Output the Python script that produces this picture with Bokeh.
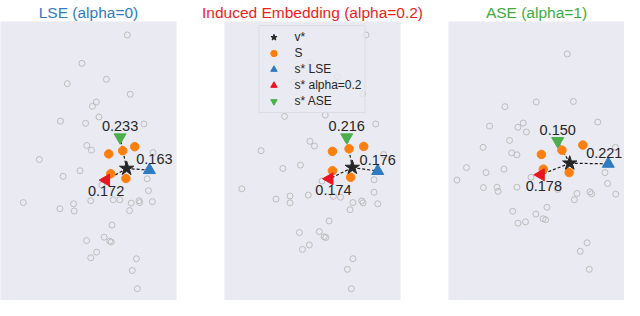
import math
from bokeh.plotting import figure
from bokeh.layouts import row
from bokeh.models import Range1d, Legend, LegendItem
from bokeh.core.properties import value
from bokeh.embed import file_html
from bokeh.resources import INLINE

# ---------------- data ----------------
titles = ["LSE (alpha=0)", "Induced Embedding (alpha=0.2)", "ASE (alpha=1)"]
title_colors = ["#2f7cbf", "#ee1c1c", "#3cad3c"]

# Panel 1: LSE (alpha=0)
lse_other_x = [129.7, 83.3, 68.3, 108.3, 132.7, 98, 94, 100.7, 61.3, 87, 146.7, 88.3, 93, 156,
               39.7, 81.3, 64, 150, 103.7, 151.3, 23.3, 92.3, 115.3, 122, 141.7, 142.3, 133.7,
               155.3, 74.7, 60.7, 75.3, 132, 114, 106, 88, 111.7, 113.3, 98.3, 92.3, 139, 134.7, 140]
lse_other_y = [283.6, 253.3, 231.6, 236.3, 220.3, 212, 207.3, 196, 191.6, 189.3, 188.6, 165.6, 160.6, 158,
               150.6, 138.6, 132.6, 130, 123.3, 117.3, 104.6, 106.6, 107.6, 107.6, 106.6, 104.6, 104,
               105.6, 103.3, 98, 95.6, 96, 80.6, 67.6, 64, 63.3, 62.6, 51.6, 45.6, 44.6, 32, 12.6]
lse_s_x = [110.7, 125, 137.3, 112.7, 128.3]
lse_s_y = [156.6, 160, 164.3, 135.3, 130.3]
lse_v = (129, 141)
lse_lse = (152.3, 139.3)
lse_alpha = (108, 128.6)
lse_ase = (122.3, 174.3)
lse_dist = ["0.163", "0.172", "0.233"]   # LSE, alpha, ASE

# Panel 2: Induced Embedding (alpha=0.2)
ind_other_x = [144.7, 115.4, 71, 141.4, 87.7, 96.7, 61.4, 103, 154.7, 87.4, 92, 37.4, 162.7, 59.7,
               77.7, 99.7, 153, 17.7, 52.7, 67, 67, 85.7, 111.4, 118.7, 153, 131.4, 140.4, 141.7,
               156.7, 128.4, 107, 76.7, 97, 102, 103.7, 86.7, 79.7, 131.4, 125.7, 129.7]
ind_other_y = [283.6, 239, 233.3, 220.6, 254, 209, 196.6, 198, 188.6, 170, 165, 160, 155.8, 141,
               144.6, 127.6, 129, 119.3, 108.3, 111.6, 104.3, 112.6, 111.3, 110.3, 115.6, 104.6, 106.3, 104.3,
               103.3, 97, 85, 72.6, 73.6, 68, 67.3, 59.3, 54.6, 44.6, 33.3, 12.6]
ind_s_x = [110.4, 127.4, 142.4, 110.4, 129]
ind_s_y = [159.3, 162, 164.6, 138.6, 131.6]
ind_v = (130.7, 142)
ind_lse = (156.7, 138.3)
ind_alpha = (107.4, 130)
ind_ase = (125, 174.3)
ind_dist = ["0.176", "0.174", "0.216"]

# Panel 3: ASE (alpha=1)
ase_other_x = [121.4, 57.7, 89.7, 127.7, 42, 71, 76.4, 79.7, 152.7, 62.4, 35.4, 64.7, 70, 170.7,
               18.4, 38.4, 56.7, 8.7, 84.4, 160, 162.7, 35.7, 49.7, 50.7, 70, 111.7, 131.4, 144.7,
               146.4, 171, 128.7, 100.7, 65.7, 89.4, 96.7, 99.4, 71, 78.7, 141.7, 134.7, 144]
ase_other_y = [263.3, 207, 212, 212.6, 186.3, 185, 189.6, 180, 190.6, 171, 163.6, 157.6, 155.6, 163.6,
               142, 136.6, 140.3, 128.6, 131.6, 136.6, 125, 120.6, 121, 116.6, 121, 118.6, 114.3, 116,
               114, 113.6, 107.6, 99.6, 95.3, 92.3, 87.3, 86.3, 82.6, 84, 61.6, 52.6, 33.3]
ase_s_x = [137.4, 116, 95, 97, 123.4]
ase_s_y = [166, 160.6, 156, 140.3, 136.6]
ase_v = (124, 146.6)
ase_lse = (163.4, 146)
ase_alpha = (94.4, 134.3)
ase_ase = (111.7, 170.3)
ase_dist = ["0.221", "0.178", "0.150"]

legend_labels = ["v*", "S", "s* LSE", "s* alpha=0.2", "s* ASE"]

# ---------------- styling ----------------
BG = "#EAEAF2"
FONT = "Liberation Sans"
C_ORANGE = "#ff7f0e"
C_BLUE = "#2f7bbf"
C_RED = "#e8161f"
C_GREEN = "#4cae4c"
C_STAR = "#262626"

panels = [
    (lse_other_x, lse_other_y, lse_s_x, lse_s_y, lse_v, lse_lse, lse_alpha, lse_ase, lse_dist),
    (ind_other_x, ind_other_y, ind_s_x, ind_s_y, ind_v, ind_lse, ind_alpha, ind_ase, ind_dist),
    (ase_other_x, ase_other_y, ase_s_x, ase_s_y, ase_v, ase_lse, ase_alpha, ase_ase, ase_dist),
]
borders = [(0, 24), (24, 24), (24, 0)]
label_dx = [[5, 0, 0], [0, 4, 0], [-4, 3, 0]]   # screen-pixel nudges of the distance labels
label_dy = [-11, 11, -11]

figs = []
for i, (ox, oy, sx, sy, v, lse, alp, ase, dist) in enumerate(panels):
    bl, br = borders[i]
    p = figure(width=176 + bl + br, height=300, output_backend="svg", toolbar_location=None,
               x_range=Range1d(0, 180), y_range=Range1d(0, 298),
               min_border_left=bl, min_border_right=br, min_border_top=0, min_border_bottom=0,
               background_fill_color=BG, border_fill_color="white")
    p.outline_line_color = None
    p.axis.visible = False
    p.grid.visible = False
    p.title.text = titles[i]
    p.title.text_color = title_colors[i]
    p.title.text_font = FONT
    p.title.text_font_size = "15.5px"
    p.title.text_font_style = "normal"
    p.title.align = "center"
    p.title.standoff = 2

    p.scatter(ox, oy, marker="circle", size=6, fill_color=None, line_color="#bdbdbd", line_width=1)

    tx = [lse[0], alp[0], ase[0]]
    ty = [lse[1], alp[1], ase[1]]
    p.segment(x0=[v[0]] * 3, y0=[v[1]] * 3, x1=tx, y1=ty, line_color="#1a1a1a",
              line_width=1.2, line_dash="3 2")

    r_s = p.scatter(sx, sy, marker="circle", size=8.5, fill_color=C_ORANGE, line_color=C_ORANGE)
    r_lse = p.scatter([lse[0]], [lse[1]], marker="triangle", size=12, fill_color=C_BLUE, line_color=C_BLUE)
    r_alp = p.scatter([alp[0]], [alp[1]], marker="triangle", angle=math.pi / 2, size=12,
                      fill_color=C_RED, line_color=C_RED)
    r_ase = p.scatter([ase[0]], [ase[1]], marker="inverted_triangle", size=12,
                      fill_color=C_GREEN, line_color=C_GREEN)
    r_v = p.scatter([v[0]], [v[1]], marker="star", size=15, fill_color=C_STAR, line_color=C_STAR)

    p.text(x=tx, y=ty, text=dist, x_offset=label_dx[i], y_offset=label_dy, text_align="center",
           text_baseline="middle", text_font=value(FONT), text_font_size=value("14.5px"),
           text_color="#262626")

    if i == 1:
        items = [LegendItem(label=legend_labels[0], renderers=[r_v]),
                 LegendItem(label=legend_labels[1], renderers=[r_s]),
                 LegendItem(label=legend_labels[2], renderers=[r_lse]),
                 LegendItem(label=legend_labels[3], renderers=[r_alp]),
                 LegendItem(label=legend_labels[4], renderers=[r_ase])]
        leg = Legend(items=items, location="top_center", margin=4, padding=3,
                     label_text_font=FONT, label_text_font_size="12px", label_text_color="#262626",
                     glyph_width=22, glyph_height=16, label_height=16, spacing=0, label_standoff=10,
                     background_fill_color=BG, background_fill_alpha=0.8,
                     border_line_color="#cfcfcf", border_line_width=1)
        p.add_layout(leg, "center")
    figs.append(p)

layout = row(*figs)
open("out.html", "w").write(file_html(layout, INLINE))
